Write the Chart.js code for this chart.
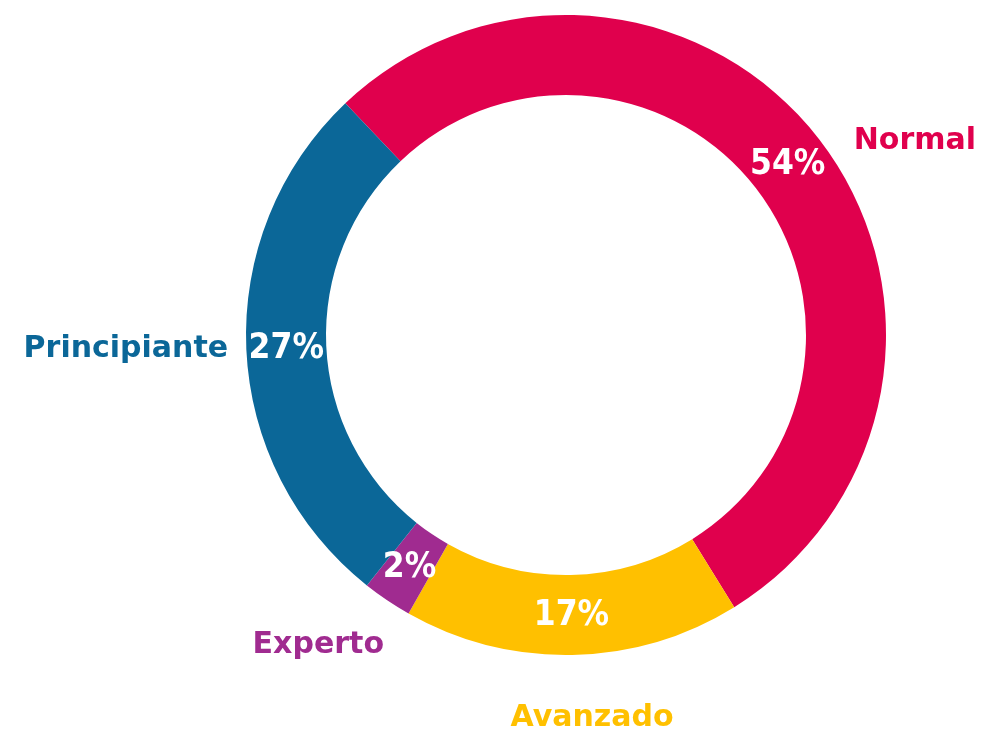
<!DOCTYPE html>
<html>
<head>
<meta charset="utf-8">
<script src="https://cdn.jsdelivr.net/npm/chart.js@4.4.1/dist/chart.umd.min.js"></script>
<style>
  body { margin: 0; background: #fff; }
</style>
</head>
<body>
<canvas id="myGraph" width="981" height="731"></canvas>
<script>
const categories = ["Normal", "Avanzado", "Experto", "Principiante"];
const values = [53.3, 17.0, 2.5, 27.2];
const percentLabels = ["54%", "17%", "2%", "27%"];
const colors = ["#E0004D", "#FFC000", "#A02B90", "#0B6798"];

// where the category names sit: angle from the top (clockwise) and distance as a share of the outer radius
const namePlacement = [
  { deg: 60.8, dist: 1.249 },
  { deg: 176.1, dist: 1.196 },
  { deg: 218.7, dist: 1.238 },
  { deg: 268.3, dist: 1.376 }
];

const labelPlugin = {
  id: "sliceLabels",
  afterDatasetsDraw(chart) {
    const ctx = chart.ctx;
    const meta = chart.getDatasetMeta(0);
    ctx.save();
    ctx.textAlign = "center";
    ctx.textBaseline = "middle";
    meta.data.forEach((arc, i) => {
      const p = arc.getProps(["x", "y", "startAngle", "endAngle", "innerRadius", "outerRadius"], true);
      const mid = (p.startAngle + p.endAngle) / 2;
      const r = (p.innerRadius + p.outerRadius) / 2;
      ctx.fillStyle = "#fff";
      ctx.font = "bold 35px 'DejaVu Sans Condensed', 'DejaVu Sans'";
      ctx.fillText(percentLabels[i], p.x + r * Math.cos(mid), p.y + r * Math.sin(mid) + 1);

      const pl = namePlacement[i];
      const a = (pl.deg - 90) * Math.PI / 180;
      const d = pl.dist * p.outerRadius;
      ctx.fillStyle = colors[i];
      ctx.font = "bold 30px 'DejaVu Sans'";
      ctx.fillText(categories[i], p.x + d * Math.cos(a), p.y + d * Math.sin(a) + 1);
    });
    ctx.restore();
  }
};

const canvas = document.querySelector("#myGraph").getContext("2d");
let chart = new Chart(canvas, {
  type: "doughnut",
  data: {
    labels: categories,
    datasets: [
      {
        data: values,
        backgroundColor: colors,
        borderWidth: 0,
        hoverOffset: 0
      }
    ]
  },
  options: {
    responsive: false,
    animation: false,
    events: [],
    rotation: -43.6,
    cutout: "75%",
    layout: {
      padding: { left: 246, right: 95, top: 15, bottom: 76 }
    },
    plugins: {
      legend: { display: false },
      tooltip: { enabled: false }
    }
  },
  plugins: [labelPlugin]
});
</script>
</body>
</html>
